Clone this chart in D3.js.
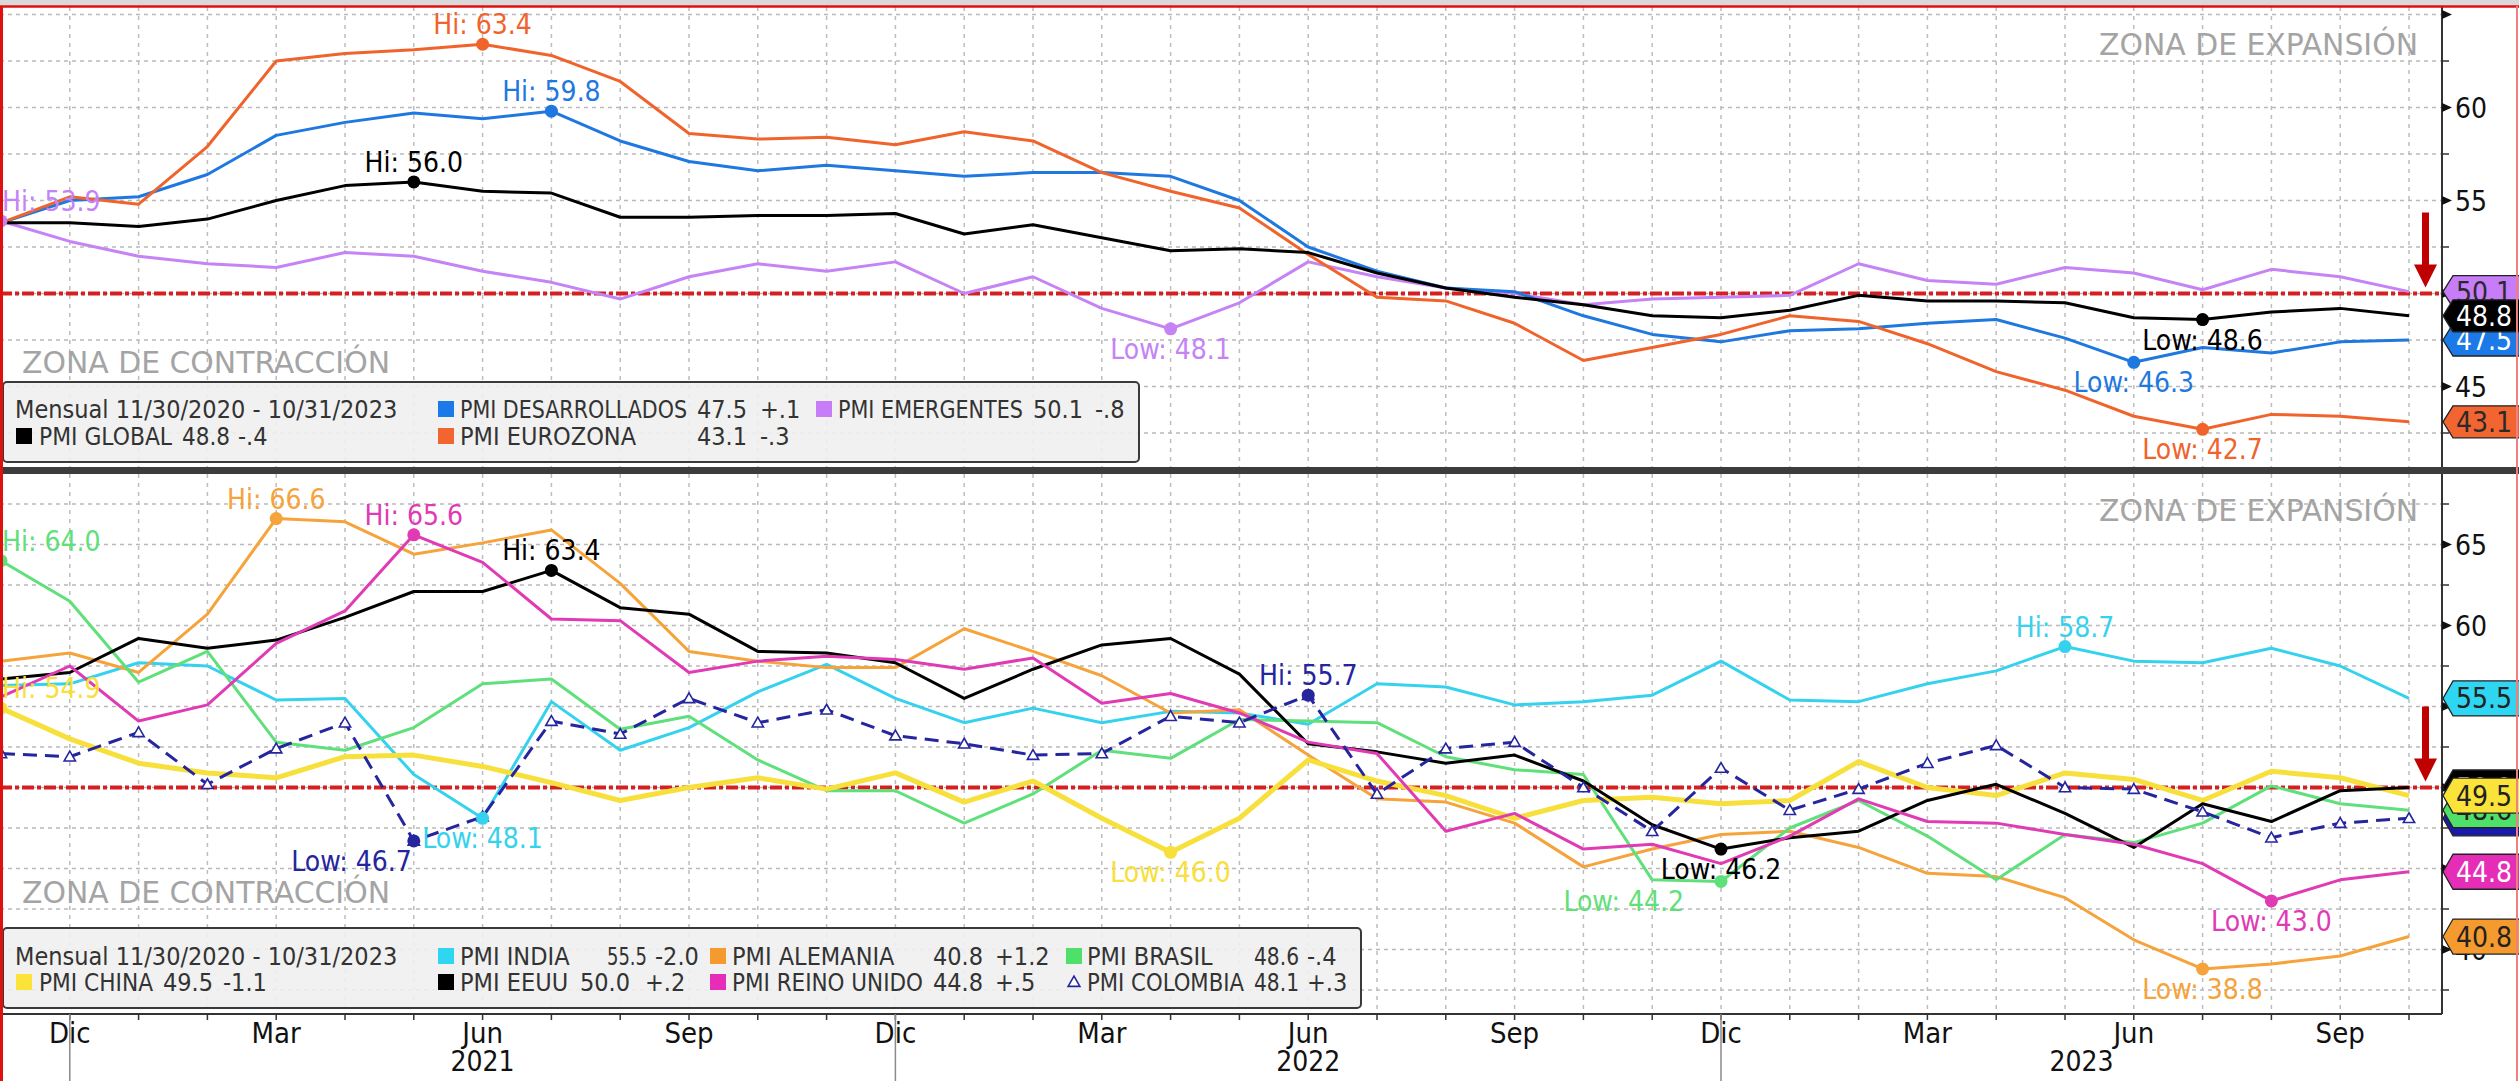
<!DOCTYPE html>
<html><head><meta charset="utf-8">
<script src="https://cdn.jsdelivr.net/npm/d3@7"></script>
<style>
html,body{margin:0;padding:0;background:#fff;overflow:hidden}
svg{display:block}
text{font-family:"DejaVu Sans Condensed","DejaVu Sans",sans-serif;font-stretch:condensed}
</style></head><body>
<svg id="c" width="2519" height="1081"></svg>
<script>
// ---------------- DATA ----------------
const months = ["2020-11","2020-12","2021-01","2021-02","2021-03","2021-04","2021-05","2021-06","2021-07","2021-08","2021-09","2021-10","2021-11","2021-12",
  "2022-01","2022-02","2022-03","2022-04","2022-05","2022-06","2022-07","2022-08","2022-09","2022-10","2022-11","2022-12",
  "2023-01","2023-02","2023-03","2023-04","2023-05","2023-06","2023-07","2023-08","2023-09","2023-10"];
const monthAbbr = ["Ene","Feb","Mar","Abr","May","Jun","Jul","Ago","Sep","Oct","Nov","Dic"];
const labeledMonths = [3,6,9,12];
const years = [2021,2022,2023];
const topTickLabels = [45,55,60];
const botTickLabels = [40,60,65];
const threshold = 50;
const periodText = "Mensual 11/30/2020 - 10/31/2023";

// Top panel
const pmiGlobal        = [53.8,53.8,53.6,54.0,55.0,55.8,56.0,55.5,55.4,54.1,54.1,54.2,54.2,54.3,53.2,53.7,53.0,52.3,52.4,52.2,51.1,50.3,49.8,49.4,48.8,48.7,49.1,49.9,49.6,49.6,49.5,48.7,48.6,49.0,49.2,48.8];
const pmiDesarrollados = [53.8,55.0,55.2,56.4,58.5,59.2,59.7,59.4,59.8,58.2,57.1,56.6,56.9,56.6,56.3,56.5,56.5,56.3,55.0,52.5,51.2,50.3,50.1,48.8,47.8,47.4,48.0,48.1,48.4,48.6,47.6,46.3,47.1,46.8,47.4,47.5];
const pmiEmergentes    = [53.9,52.8,52.0,51.6,51.4,52.2,52.0,51.2,50.6,49.7,50.9,51.6,51.2,51.7,50.0,50.9,49.2,48.1,49.5,51.7,50.9,50.3,50.0,49.4,49.7,49.8,49.9,51.6,50.7,50.5,51.4,51.1,50.2,51.3,50.9,50.1];
const pmiEurozona      = [53.8,55.2,54.8,57.9,62.5,62.9,63.1,63.4,62.8,61.4,58.6,58.3,58.4,58.0,58.7,58.2,56.5,55.5,54.6,52.1,49.8,49.6,48.4,46.4,47.1,47.8,48.8,48.5,47.3,45.8,44.8,43.4,42.7,43.5,43.4,43.1];

// Bottom panel
const pmiIndia    = [56.3,56.4,57.7,57.5,55.4,55.5,50.8,48.1,55.3,52.3,53.7,55.9,57.6,55.5,54.0,54.9,54.0,54.7,54.6,53.9,56.4,56.2,55.1,55.3,55.7,57.8,55.4,55.3,56.4,57.2,58.7,57.8,57.7,58.6,57.5,55.5];
const pmiAlemania = [57.8,58.3,57.1,60.7,66.6,66.4,64.4,65.1,65.9,62.6,58.4,57.8,57.4,57.4,59.8,58.4,56.9,54.6,54.8,52.0,49.3,49.1,47.8,45.1,46.2,47.1,47.3,46.3,44.7,44.5,43.2,40.6,38.8,39.1,39.6,40.8];
const pmiBrasil   = [64.0,61.5,56.5,58.4,52.8,52.3,53.7,56.4,56.7,53.6,54.4,51.7,49.8,49.8,47.8,49.6,52.3,51.8,54.2,54.1,54.0,51.9,51.1,50.8,44.3,44.2,47.5,49.2,47.0,44.3,47.1,46.6,47.8,50.1,49.0,48.6];
const pmiChina    = [54.9,53.0,51.5,50.9,50.6,51.9,52.0,51.3,50.3,49.2,50.0,50.6,49.9,50.9,49.1,50.4,48.1,46.0,48.1,51.7,50.4,49.5,48.1,49.2,49.4,49.0,49.2,51.6,50.0,49.5,50.9,50.5,49.2,51.0,50.6,49.5];
const pmiEEUU     = [56.7,57.1,59.2,58.6,59.1,60.5,62.1,62.1,63.4,61.1,60.7,58.4,58.3,57.7,55.5,57.3,58.8,59.2,57.0,52.7,52.2,51.5,52.0,50.4,47.7,46.2,46.9,47.3,49.2,50.2,48.4,46.3,49.0,47.9,49.8,50.0];
const pmiReinoUnido = [55.6,57.5,54.1,55.1,58.9,60.9,65.6,63.9,60.4,60.3,57.1,57.8,58.1,57.9,57.3,58.0,55.2,55.8,54.6,52.8,52.1,47.3,48.4,46.2,46.5,45.3,47.0,49.3,47.9,47.8,47.1,46.5,45.3,43.0,44.3,44.8];
const pmiColombia = [52.1,51.9,53.4,50.2,52.4,54.0,46.7,48.2,54.1,53.3,55.5,54.0,54.8,53.2,52.7,52.0,52.1,54.4,54.0,55.7,49.6,52.4,52.8,50.0,47.3,51.2,48.6,49.9,51.5,52.6,50.0,49.9,48.5,46.9,47.8,48.1];

// ---------------- SERIES STYLE ----------------
const topSeries = [
  {key:"des", name:"PMI DESARROLLADOS", values:pmiDesarrollados, color:"#1f78e0", tag:"#1b7ae8", tagText:"#fff"},
  {key:"eme", name:"PMI EMERGENTES",    values:pmiEmergentes,    color:"#c583f5", tag:"#c77cf8", tagText:"#2a2a2a"},
  {key:"glo", name:"PMI GLOBAL",        values:pmiGlobal,        color:"#000000", tag:"#000000", tagText:"#fff"},
  {key:"eur", name:"PMI EUROZONA",      values:pmiEurozona,      color:"#f0642c", tag:"#f26430", tagText:"#2a2a2a"}
];
const botSeries = [
  {key:"ind", name:"PMI INDIA",        values:pmiIndia,      color:"#35d2ee", tag:"#2fd6f2", tagText:"#222"},
  {key:"ale", name:"PMI ALEMANIA",     values:pmiAlemania,   color:"#f5a33a", tag:"#f59a2e", tagText:"#222"},
  {key:"bra", name:"PMI BRASIL",       values:pmiBrasil,     color:"#5fe07a", tag:"#4fe06a", tagText:"#222"},
  {key:"chi", name:"PMI CHINA",        values:pmiChina,      color:"#f7e03c", tag:"#fbe33a", tagText:"#222", width:5},
  {key:"usa", name:"PMI EEUU",         values:pmiEEUU,       color:"#000000", tag:"#000000", tagText:"#fff"},
  {key:"uk",  name:"PMI REINO UNIDO",  values:pmiReinoUnido, color:"#e03bb4", tag:"#e62db8", tagText:"#fff"},
  {key:"col", name:"PMI COLOMBIA",     values:pmiColombia,   color:"#25259e", tag:"#1a1aa8", tagText:"#fff", dashed:true}
];

// ---------------- LAYOUT ----------------
const W = 2519, H = 1081, AX = 2442;
const x = d3.scalePoint().domain(months).range([1, 2409]);
const yTop = d3.scaleLinear().domain([42.5, 62.5]).range([433, 61]);
const yBot = d3.scaleLinear().domain([37.5, 67.5]).range([990, 504]);

const annotCfg = {
  col: {lo:{anchor:"end", dx:-2}},
  bra: {lo:{anchor:"end", dx:-37}}
};

const topLegend = {box:[3,382,1136,80], rows:[418,445], items:[
  {key:"des", row:0, sq:438, name:460, val:697, chg:760, end:810},
  {key:"eme", row:0, sq:816, name:838, val:1033, chg:1095, end:1132},
  {key:"glo", row:1, sq:16,  name:39,  val:182, chg:238, end:290},
  {key:"eur", row:1, sq:438, name:460, val:697, chg:760, end:810}]};
const botLegend = {box:[3,928,1358,80], rows:[965,991], items:[
  {key:"ind", row:0, sq:438, name:460, val:607, chg:655, end:704},
  {key:"ale", row:0, sq:710, name:732, val:933, chg:995, end:1060},
  {key:"bra", row:0, sq:1066, name:1087, val:1254, chg:1307, end:1355},
  {key:"chi", row:1, sq:16,  name:39,  val:163, chg:223, end:280},
  {key:"usa", row:1, sq:438, name:460, val:580, chg:645, end:704},
  {key:"uk",  row:1, sq:710, name:732, val:933, chg:995, end:1060},
  {key:"col", row:1, sq:1066, name:1087, val:1254, chg:1307, end:1355}]};

const panels = [
  {id:"top", y:yTop, top:7, bottom:467, gridMin:42.5, gridMax:65, labels:topTickLabels, series:topSeries,
   lineOrder:["eme","des","eur","glo"], tagOrder:["eme","des","eur","glo"], tagH:32,
   expY:55, conY:373, legend:topLegend},
  {id:"bot", y:yBot, top:474, bottom:1014, gridMin:37.5, gridMax:67.5, labels:botTickLabels, series:botSeries,
   lineOrder:["ind","ale","bra","chi","usa","uk","col"], tagOrder:["ind","uk","ale","usa","col","bra","chi"], tagH:35,
   expY:521, conY:903, legend:botLegend}
];

function fmtChg(d){
  const r = Math.round(d*10)/10;
  const s = r < 0 ? "-" : "+";
  const a = Math.abs(r);
  return s + (a < 1 ? a.toFixed(1).slice(1) : a.toFixed(1));
}
function fitText(sel, avail){
  const w = sel.node().getComputedTextLength();
  if (w > avail) sel.attr("textLength",avail).attr("lengthAdjust","spacingAndGlyphs");
  return sel;
}

const svg = d3.select("#c");
svg.append("rect").attr("width",W).attr("height",H).attr("fill","#fff");
svg.append("rect").attr("x",0).attr("y",0).attr("width",W).attr("height",6).attr("fill","#d9d9d9");
const defs = svg.append("defs");

panels.forEach(p => {
  const y = p.y;
  const g = svg.append("g").attr("class","panel-"+p.id);
  defs.append("clipPath").attr("id","clip-"+p.id).append("rect")
    .attr("x",0).attr("y",p.top).attr("width",AX).attr("height",p.bottom-p.top);
  const gc = g.append("g").attr("clip-path","url(#clip-"+p.id+")");

  // grid
  const gridVals = d3.range(p.gridMin, p.gridMax+0.01, 2.5);
  gc.selectAll("line.hg").data(gridVals).join("line").attr("class","hg")
    .attr("x1",0).attr("x2",AX).attr("y1",d=>y(d)).attr("y2",d=>y(d))
    .attr("stroke","#b9b9b9").attr("stroke-width",1.5).attr("stroke-dasharray","4,4");
  gc.selectAll("line.vg").data(months).join("line").attr("class","vg")
    .attr("x1",d=>x(d)).attr("x2",d=>x(d)).attr("y1",p.top).attr("y2",p.bottom)
    .attr("stroke","#bdbdbd").attr("stroke-width",1.5).attr("stroke-dasharray","4,5");

  // zone labels
  gc.append("text").attr("x",2418).attr("y",p.expY).attr("text-anchor","end")
    .attr("font-size",30).attr("fill","#a4a4a4").attr("textLength",319).attr("lengthAdjust","spacingAndGlyphs")
    .text("ZONA DE EXPANSIÓN");
  gc.append("text").attr("x",22).attr("y",p.conY)
    .attr("font-size",30).attr("fill","#a4a4a4").attr("textLength",368).attr("lengthAdjust","spacingAndGlyphs")
    .text("ZONA DE CONTRACCIÓN");

  // threshold line
  gc.append("line").attr("x1",0).attr("x2",AX).attr("y1",y(threshold)).attr("y2",y(threshold))
    .attr("stroke","#d42020").attr("stroke-width",4).attr("stroke-dasharray","12,3,4,3");

  // lines
  const byKey = Object.fromEntries(p.series.map(s=>[s.key,s]));
  const line = d3.line().x((d,i)=>x(months[i])).y(d=>y(d));
  p.lineOrder.forEach(k => {
    const s = byKey[k];
    gc.append("path").datum(s.values).attr("d",line).attr("fill","none")
      .attr("stroke",s.color).attr("stroke-width",s.width||3).attr("stroke-linejoin","round")
      .attr("stroke-dasharray", s.dashed ? "14,8" : null);
    if (s.dashed) {
      gc.selectAll("path.tri-"+k).data(s.values).join("path").attr("class","tri-"+k)
        .attr("d", d3.symbol().type(d3.symbolTriangle).size(55))
        .attr("transform",(d,i)=>`translate(${x(months[i])},${y(d)+1})`)
        .attr("fill","#fff").attr("stroke",s.color).attr("stroke-width",1.6);
    }
  });

  // hi / low annotations
  p.series.forEach(s => {
    const cfg = annotCfg[s.key] || {};
    [["hi", d3.maxIndex(s.values), "Hi: "], ["lo", d3.minIndex(s.values), "Low: "]].forEach(([t, idx, pre]) => {
      const v = s.values[idx], cx = x(months[idx]), cy = y(v);
      gc.append("circle").attr("cx",cx).attr("cy",cy).attr("r",6.5).attr("fill",s.color);
      let anchor = idx === 0 ? "start" : "middle", dx = 0;
      if (cfg[t]) { anchor = cfg[t].anchor; dx = cfg[t].dx; }
      gc.append("text").attr("x",cx+dx+(idx===0?1:0)).attr("y", t==="hi" ? cy-10 : cy+30)
        .attr("text-anchor",anchor).attr("font-size",28).attr("fill",s.color)
        .text(pre + v.toFixed(1));
    });
  });

  // legend
  const L = p.legend;
  const lg = g.append("g");
  lg.append("rect").attr("x",L.box[0]).attr("y",L.box[1]).attr("width",L.box[2]).attr("height",L.box[3])
    .attr("rx",4).attr("fill","#efefef").attr("fill-opacity",0.9).attr("stroke","#3a3a3a").attr("stroke-width",2);
  fitText(lg.append("text").attr("x",15).attr("y",L.rows[0]).attr("font-size",25).attr("fill","#333").text(periodText), 400);
  L.items.forEach(it => {
    const s = byKey[it.key], by = L.rows[it.row];
    const vals = s.values, last = vals[vals.length-1], prev = vals[vals.length-2];
    if (s.dashed) {
      lg.append("path").attr("d", d3.symbol().type(d3.symbolTriangle).size(60))
        .attr("transform",`translate(${it.sq+8},${by-8})`).attr("fill","#fff").attr("stroke",s.color).attr("stroke-width",1.6);
    } else {
      lg.append("rect").attr("x",it.sq).attr("y",by-17).attr("width",16).attr("height",16).attr("fill",s.color==="#000000"?"#000":s.tag);
    }
    fitText(lg.append("text").attr("x",it.name).attr("y",by).attr("font-size",25).attr("fill","#333").text(s.name), it.val - it.name - 10);
    fitText(lg.append("text").attr("x",it.val).attr("y",by).attr("font-size",25).attr("fill","#333").text(last.toFixed(1)), it.chg - it.val - 8);
    fitText(lg.append("text").attr("x",it.chg).attr("y",by).attr("font-size",25).attr("fill","#333").text(fmtChg(last-prev)), it.end - it.chg);
  });

  // right axis
  g.append("line").attr("x1",AX).attr("x2",AX).attr("y1",p.top).attr("y2",p.bottom).attr("stroke","#333").attr("stroke-width",2);
  gridVals.forEach(v => {
    if (v % 5 === 0) {
      g.append("path").attr("d",`M${AX},${y(v)-4.5} L${AX+10},${y(v)} L${AX},${y(v)+4.5} Z`).attr("fill","#111");
    } else {
      g.append("line").attr("x1",AX).attr("x2",AX+7).attr("y1",y(v)).attr("y2",y(v)).attr("stroke","#333").attr("stroke-width",1.5);
    }
  });
  g.selectAll("text.tl").data(p.labels).join("text").attr("class","tl")
    .attr("x",AX+13).attr("y",d=>y(d)).attr("dy","0.36em").attr("font-size",28).attr("fill","#111").text(d=>d);

  // value tags
  p.tagOrder.forEach(k => {
    const s = byKey[k], v = s.values[s.values.length-1], cy = y(v), h = p.tagH, x0 = AX+1;
    g.append("path").attr("d",`M${x0},${cy} L${x0+10},${cy-h/2} L${W+3},${cy-h/2} L${W+3},${cy+h/2} L${x0+10},${cy+h/2} Z`)
      .attr("fill",s.tag).attr("stroke","#222").attr("stroke-width",1.3);
    g.append("text").attr("x",x0+13).attr("y",cy).attr("dy","0.36em").attr("font-size",28).attr("fill",s.tagText).text(v.toFixed(1));
  });

  // arrow
  const tip = y(threshold) - 6;
  g.append("rect").attr("x",AX-20).attr("y",tip-75).attr("width",7).attr("height",53).attr("fill","#c00000");
  g.append("path").attr("d",`M${AX-28},${tip-23} L${AX-5},${tip-23} L${AX-16.5},${tip} Z`).attr("fill","#c00000");
});

// separator
svg.append("rect").attr("x",0).attr("y",467).attr("width",W).attr("height",7).attr("fill","#3c3c3c");

// bottom x axis
const xa = svg.append("g");
xa.append("line").attr("x1",0).attr("x2",AX).attr("y1",1014).attr("y2",1014).attr("stroke","#333").attr("stroke-width",2);
xa.selectAll("line.mt").data(months).join("line").attr("class","mt")
  .attr("x1",d=>x(d)).attr("x2",d=>x(d)).attr("y1",1014).attr("y2",1020).attr("stroke","#333").attr("stroke-width",1.5);
const decs = months.filter(m => +m.slice(5) === 12);
xa.selectAll("line.ys").data(decs).join("line").attr("class","ys")
  .attr("x1",d=>x(d)).attr("x2",d=>x(d)).attr("y1",1014).attr("y2",H).attr("stroke","#8a8a8a").attr("stroke-width",1.5);
xa.selectAll("text.ml").data(months.filter(m => labeledMonths.includes(+m.slice(5)))).join("text").attr("class","ml")
  .attr("x",d=>x(d)).attr("y",1043).attr("text-anchor","middle").attr("font-size",29).attr("fill","#111")
  .text(d => monthAbbr[+d.slice(5)-1]);
xa.selectAll("text.yl").data(years).join("text").attr("class","yl")
  .attr("x", yr => {
    const a = x((yr-1)+"-12");
    const b = months.includes(yr+"-12") ? x(yr+"-12") : AX;
    return (a+b)/2;
  })
  .attr("y",1071).attr("text-anchor","middle").attr("font-size",28).attr("fill","#111").text(d=>d);

// red frame
svg.append("line").attr("x1",0).attr("x2",W).attr("y1",6.5).attr("y2",6.5).attr("stroke","#e01010").attr("stroke-width",2.5);
svg.append("line").attr("x1",1.5).attr("x2",1.5).attr("y1",6).attr("y2",H).attr("stroke","#e01010").attr("stroke-width",3);
svg.append("line").attr("x1",2517).attr("x2",2517).attr("y1",6).attr("y2",H).attr("stroke","#f08080").attr("stroke-width",2);
</script>
</body></html>
